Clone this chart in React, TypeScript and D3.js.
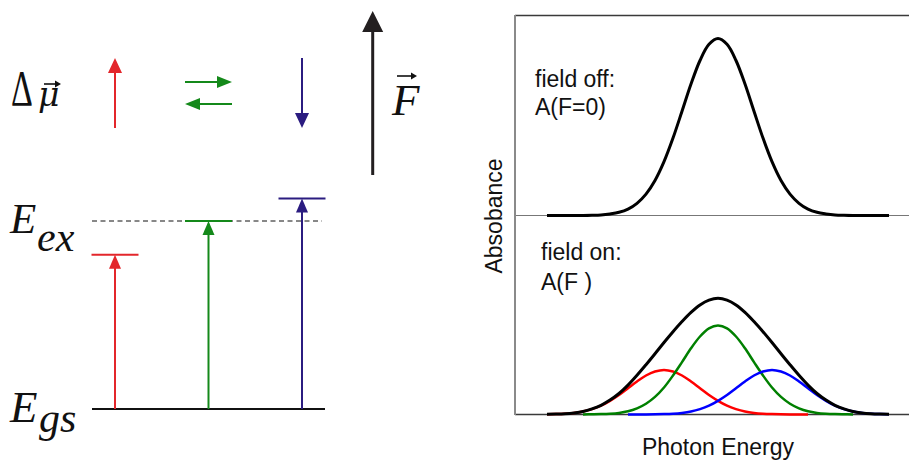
import React from 'react';
import * as d3 from 'd3';

// ---------- Left: energy level diagram ----------
const levelNames = ['red', 'green', 'blue'];
const levelEnergy = [0.82, 1.0, 1.12]; // relative to E_ex (E_gs = 0)
const dipoleDir = ['up', 'both', 'down'];
const levelColors = ['#e3262b', '#14891a', '#2b1c80'];

// ---------- Right: absorbance spectra ----------
const energy = [32, 41, 50, 59, 68, 77, 86, 95, 104, 113, 122, 131, 140, 149, 158, 167, 176, 185, 194, 203,
  212, 221, 230, 239, 248, 257, 266, 275, 284, 293, 302, 311, 320, 329, 338, 347, 356, 365, 374];
const absFieldOff = [0, 0, 0, 0, 0, 0.001, 0.003, 0.008, 0.016, 0.032, 0.061, 0.107, 0.175, 0.269, 0.387, 0.521, 0.657, 0.775, 0.856, 0.885,
  0.856, 0.775, 0.657, 0.521, 0.387, 0.269, 0.175, 0.107, 0.061, 0.032, 0.016, 0.008, 0.003, 0.001, 0, 0, 0, 0, 0];
const absRed = [0.001, 0.002, 0.004, 0.008, 0.015, 0.027, 0.044, 0.068, 0.097, 0.131, 0.165, 0.195, 0.215, 0.223, 0.215, 0.195, 0.165, 0.131, 0.097, 0.068,
  0.044, 0.027, 0.015, 0.008, 0.004, 0.002, 0.001, 0.0005, 0.0003, 0.0001, 0, 0, 0, 0, 0, 0, 0, 0, 0];
const absGreen = [0, 0, 0, 0, 0.0003, 0.001, 0.002, 0.004, 0.008, 0.016, 0.031, 0.054, 0.088, 0.135, 0.195, 0.262, 0.331, 0.390, 0.431, 0.445,
  0.431, 0.390, 0.331, 0.262, 0.195, 0.135, 0.088, 0.054, 0.031, 0.016, 0.008, 0.004, 0.002, 0.001, 0.0003, 0, 0, 0, 0];
const absBlue = [0, 0, 0, 0, 0, 0, 0, 0, 0, 0.0001, 0.0003, 0.0005, 0.001, 0.002, 0.004, 0.008, 0.015, 0.027, 0.044, 0.068,
  0.097, 0.131, 0.165, 0.195, 0.215, 0.223, 0.215, 0.195, 0.165, 0.131, 0.097, 0.068, 0.044, 0.027, 0.015, 0.008, 0.004, 0.002, 0.001];
const absFieldOn = [0.001, 0.002, 0.004, 0.008, 0.015, 0.028, 0.046, 0.072, 0.105, 0.147, 0.196, 0.249, 0.304, 0.360, 0.414, 0.465, 0.511, 0.548, 0.572, 0.581,
  0.572, 0.548, 0.511, 0.465, 0.414, 0.360, 0.304, 0.249, 0.196, 0.147, 0.105, 0.072, 0.046, 0.028, 0.015, 0.008, 0.004, 0.002, 0.001];

const MATH = '"Liberation Serif", "DejaVu Serif", serif';
const GREEK = '"DejaVu Serif", "Liberation Serif", serif';
const SANS = '"Liberation Sans", Arial, sans-serif';

function Arrow({ x1, y1, x2, y2, color, w = 2, hl = 14, hw = 12 }: any) {
  const dx = x2 - x1, dy = y2 - y1;
  const len = Math.hypot(dx, dy);
  const ux = dx / len, uy = dy / len;
  const bx = x2 - ux * hl, by = y2 - uy * hl;
  const px = -uy * hw / 2, py = ux * hw / 2;
  return (
    <g>
      <line x1={x1} y1={y1} x2={bx + ux * 1} y2={by + uy * 1} stroke={color} strokeWidth={w} />
      <path d={`M${x2},${y2}L${bx + px},${by + py}L${bx - px},${by - py}Z`} fill={color} />
    </g>
  );
}

function VecMark({ x, y, len }: any) {
  // small arrow placed above a symbol (vector notation)
  return (
    <g>
      <line x1={x} y1={y} x2={x + len - 2} y2={y} stroke="#111" strokeWidth={1.6} />
      <path d={`M${x + len},${y}L${x + len - 6},${y - 3.5}L${x + len - 6},${y + 3.5}Z`} fill="#111" />
    </g>
  );
}

export default function App() {
  // left diagram scales
  const xLevel = d3.scalePoint<string>().domain(levelNames).range([115, 302]);
  const yE = d3.scaleLinear().domain([0, 1]).range([409, 221]);
  const halfBar = 23.5;

  // right panel scales
  const x = d3.scaleLinear().domain([0, 394]).range([515, 909]);
  const yTop = d3.scaleLinear().domain([0, 1]).range([215.5, 15.5]);
  const yBot = d3.scaleLinear().domain([0, 1]).range([414.5, 214.5]);

  const lineTop = d3.line<number>().x((_, i) => x(energy[i])).y(d => yTop(d)).curve(d3.curveCatmullRom);
  const lineBot = d3.line<number>().x((_, i) => x(energy[i])).y(d => yBot(d)).curve(d3.curveCatmullRom);
  const lineBotDef = d3.line<number>()
    .defined(d => d > 0)
    .x((_, i) => x(energy[i])).y(d => yBot(d)).curve(d3.curveCatmullRom);

  return (
    <svg width={909} height={460} style={{ position: 'absolute', left: 0, top: 0, background: '#fff' }}>
      {/* ===== Left diagram ===== */}
      {/* Delta mu label */}
      <g transform="translate(11,105) scale(0.68,1)">
        <text x={0} y={0} fontFamily={MATH} fontSize={50} fill="#111">Δ</text>
      </g>
      <text x={38} y={106} fontFamily={GREEK} fontSize={33} fontStyle="italic" fill="#111">μ</text>
      <VecMark x={44} y={84} len={17} />

      {/* dipole arrows */}
      {levelNames.map((n, i) => {
        const cx = xLevel(n)!;
        const c = levelColors[i];
        if (dipoleDir[i] === 'up') return <Arrow key={n} x1={cx} y1={128} x2={cx} y2={58} color={c} hl={15} hw={14} />;
        if (dipoleDir[i] === 'down') return <Arrow key={n} x1={cx} y1={58} x2={cx} y2={128} color={c} hl={15} hw={14} />;
        return (
          <g key={n}>
            <Arrow x1={cx - halfBar} y1={82} x2={cx + halfBar} y2={82} color={c} hl={15} hw={12} />
            <Arrow x1={cx + halfBar} y1={104} x2={cx - halfBar} y2={104} color={c} hl={15} hw={12} />
          </g>
        );
      })}

      {/* field arrow */}
      <Arrow x1={372.7} y1={175} x2={372.7} y2={11} color="#231f20" w={3} hl={21} hw={21} />
      <text x={392} y={115} fontFamily={MATH} fontSize={45} fontStyle="italic" fill="#111">F</text>
      <VecMark x={397} y={76} len={20} />

      {/* energy labels */}
      <text x={10} y={233} fontFamily={MATH} fontSize={43} fontStyle="italic" fill="#111">E</text>
      <text x={37} y={251} fontFamily={MATH} fontSize={42} fontStyle="italic" fill="#111">ex</text>
      <text x={10} y={422} fontFamily={MATH} fontSize={45} fontStyle="italic" fill="#111">E</text>
      <text x={39} y={432} fontFamily={MATH} fontSize={42} fontStyle="italic" fill="#111">gs</text>

      {/* ground state and E_ex reference */}
      <line x1={92} x2={325} y1={yE(0)} y2={yE(0)} stroke="#111" strokeWidth={2} />
      <line x1={92} x2={322} y1={yE(1)} y2={yE(1)} stroke="#111" strokeWidth={1} strokeDasharray="5,3.5" />

      {/* transitions and excited levels */}
      {levelNames.map((n, i) => {
        const cx = xLevel(n)!;
        const c = levelColors[i];
        const ly = yE(levelEnergy[i]);
        return (
          <g key={n}>
            <line x1={cx - halfBar} x2={cx + halfBar} y1={ly} y2={ly} stroke={c} strokeWidth={2} />
            <Arrow x1={cx} y1={yE(0)} x2={cx} y2={ly} color={c} hl={14} hw={12} />
          </g>
        );
      })}

      {/* ===== Right panel ===== */}
      <line x1={515} x2={909} y1={15.5} y2={15.5} stroke="#3a3a3a" strokeWidth={1.5} />
      <line x1={515} x2={909} y1={215.5} y2={215.5} stroke="#777" strokeWidth={1.2} />
      <line x1={515} x2={909} y1={414.5} y2={414.5} stroke="#3a3a3a" strokeWidth={1.5} />
      <line x1={515} x2={515} y1={15} y2={415} stroke="#8a8a8a" strokeWidth={2} />

      <path d={lineTop(absFieldOff)!} fill="none" stroke="#000" strokeWidth={3} />

      <path d={lineBotDef(absRed)!} fill="none" stroke="#ff0000" strokeWidth={2.5} />
      <path d={lineBotDef(absGreen)!} fill="none" stroke="#008000" strokeWidth={2.5} />
      <path d={lineBotDef(absBlue)!} fill="none" stroke="#0000ff" strokeWidth={2.5} />
      <path d={lineBot(absFieldOn)!} fill="none" stroke="#000" strokeWidth={3} />

      <text x={535} y={87} fontFamily={SANS} fontSize={23} fill="#111">field off:</text>
      <text x={535} y={115} fontFamily={SANS} fontSize={23} fill="#111">A(F=0)</text>
      <text x={541} y={260} fontFamily={SANS} fontSize={23} fill="#111">field on:</text>
      <text x={541} y={290} fontFamily={SANS} fontSize={23} fill="#111">A(F )</text>

      <text transform="translate(502,216) rotate(-90)" textAnchor="middle" fontFamily={SANS} fontSize={23} fill="#111">Absobance</text>
      <text x={718} y={455} textAnchor="middle" fontFamily={SANS} fontSize={23} fill="#111">Photon Energy</text>
    </svg>
  );
}
